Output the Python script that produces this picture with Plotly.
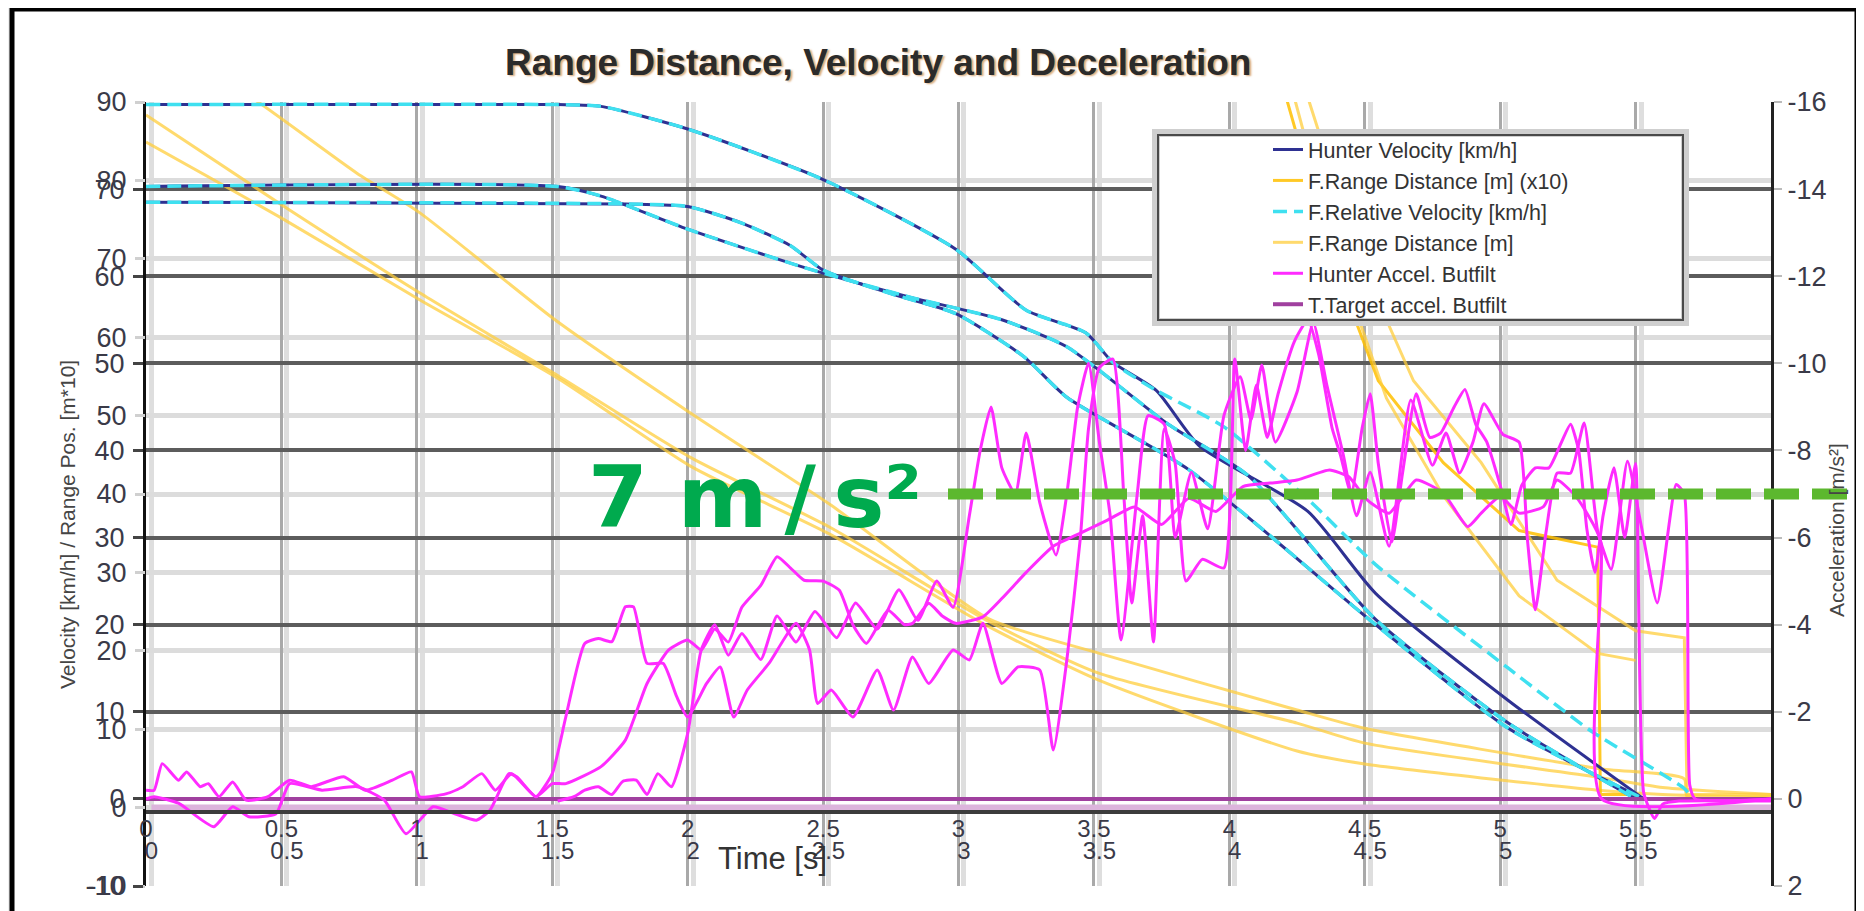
import plotly.graph_objects as go

# ---------------- data ----------------
time_tick_vals = [0, 0.5, 1, 1.5, 2, 2.5, 3, 3.5, 4, 4.5, 5, 5.5]
time_tick_text = ["0", "0.5", "1", "1.5", "2", "2.5", "3", "3.5", "4", "4.5", "5", "5.5"]
speed_tick_vals_a = [-10, 0, 10, 20, 30, 40, 50, 60, 70]
speed_tick_text_a = ["-10", "0", "10", "20", "30", "40", "50", "60", "70"]
speed_tick_vals_b = [-10, 0, 10, 20, 30, 40, 50, 60, 70, 80, 90]
speed_tick_text_b = ["-10", "0", "10", "20", "30", "40", "50", "60", "70", "80", "90"]
accel_tick_vals = [-16, -14, -12, -10, -8, -6, -4, -2, 0, 2]
accel_tick_text = ["-16", "-14", "-12", "-10", "-8", "-6", "-4", "-2", "0", "2"]

# velocity [km/h] (left axis, -10..80 scale)
vel_common_t = [0, 1.52, 1.68, 2.0, 2.5, 2.99, 3.25, 3.47, 3.57, 3.73]
vel_common_v = [79.7, 79.7, 79.5, 76.9, 71.1, 63.1, 56.1, 53.5, 50.1, 46.9]
hunter_tail_t = [3.89, 4.29, 4.54, 5.03, 5.53]
hunter_tail_v = [40.5, 33.0, 23.6, 11.3, 0.0]
relative_tail_t = [3.98, 4.29, 4.54, 5.03, 5.34, 5.68, 5.71]
relative_tail_v = [42.7, 34.4, 26.9, 15.0, 7.7, 1.2, 0.0]

vel2_t = [0, 1.52, 1.68, 2.0, 2.42, 2.82, 3.16, 3.40, 3.77, 4.07, 4.54, 5.03, 5.50]
vel2_v = [70.3, 70.3, 69.2, 65.4, 61.1, 57.6, 55.0, 51.9, 43.1, 37.1, 20.6, 8.7, 0.0]
vel3_t = [0, 1.77, 2.0, 2.2, 2.38, 2.5, 2.75, 2.99, 3.24, 3.40, 3.85, 4.54, 5.03, 5.53]
vel3_v = [68.5, 68.3, 68.0, 66.1, 63.5, 60.7, 58.0, 55.7, 50.8, 46.1, 37.8, 20.0, 8.1, 0.0]

# range distance [m]
range_t = [0, 0.51, 1.01, 1.52, 2.01, 2.53, 3.11, 3.52, 4.25, 4.50, 5.36, 5.60, 6.0]
range1_v = [78.5, 68.0, 58.1, 48.6, 39.2, 31.1, 20.4, 14.4, 8.7, 6.4, 2.5, 1.3, 0.5]
range2_v = [75.4, 66.5, 57.3, 48.3, 38.2, 30.3, 19.8, 13.6, 5.5, 4.0, 1.0, 0.5, 0.2]
range3_t = [0, 0.40, 0.78, 1.01, 1.51, 2.01, 2.53, 3.11, 3.52, 4.25, 4.50, 5.36, 5.68, 5.69, 6.0]
range3_v = [88.1, 80.3, 71.8, 67.3, 55.0, 44.3, 33.7, 20.7, 16.7, 10.2, 8.1, 3.5, 2.3, 0.3, 0.3]

# range distance [m] (x10)
rx1_t = [4.12, 4.21, 4.38, 4.55, 4.79, 5.07, 5.36, 5.37, 5.50]
rx1_v = [92.0, 80.5, 62.0, 48.0, 38.6, 30.8, 28.9, 0.5, 0.5]
rx2_t = [4.20, 4.29, 4.48, 4.68, 4.93, 5.21, 5.50, 5.68, 5.69, 6.0]
rx2_v = [92.0, 80.5, 62.0, 48.0, 38.6, 25.1, 19.3, 18.5, 0.5, 0.5]
rx3_t = [4.15, 4.24, 4.40, 4.58, 4.79, 5.07, 5.36, 5.50]
rx3_v = [92.0, 80.5, 62.0, 46.0, 34.8, 23.3, 16.7, 15.9]

# hunter acceleration [m/s^2] (right axis, reversed)
accA_t = [0.00, 0.03, 0.12, 0.25, 0.32, 0.38, 0.48, 0.53, 0.65, 0.78, 0.88, 0.96, 1.06, 1.14,
          1.22, 1.27, 1.34, 1.37, 1.44, 1.50, 1.55, 1.62, 1.67, 1.72, 1.77, 1.80, 1.85, 1.91,
          1.96, 2.00, 2.07, 2.12, 2.17, 2.22, 2.30, 2.40, 2.45, 2.48, 2.53, 2.61, 2.70, 2.76,
          2.83, 2.89, 2.98, 3.04, 3.09, 3.16, 3.22, 3.30, 3.35, 3.40, 3.45, 3.48, 3.52, 3.57,
          3.61, 3.64, 3.68, 3.72, 3.76, 3.80, 3.84, 3.90, 3.98, 4.02, 4.06, 4.10, 4.14, 4.18,
          4.24, 4.29, 4.33, 4.38, 4.41, 4.45, 4.49, 4.52, 4.55, 4.60, 4.64, 4.69, 4.74, 4.78,
          4.83, 4.87, 4.91, 4.95, 5.00, 5.04, 5.08, 5.13, 5.18, 5.22, 5.26, 5.29, 5.32, 5.35,
          5.38, 5.42, 5.46, 5.50, 5.53, 5.57, 5.60, 5.66, 6.00]
accA_a = [0.00, -0.05, 0.10, 0.64, 0.18, 0.41, 0.34, -0.35, -0.20, -0.28, 0.03, 0.80, 0.18, 0.34,
          0.49, 0.26, -0.58, -0.50, -0.05, -0.58, -1.88, -3.57, -3.68, -3.61, -4.41, -4.41, -3.11, -3.11,
          -2.34, -1.88, -2.65, -3.03, -1.88, -2.50, -3.11, -4.03, -3.42, -2.19, -2.50, -1.88, -2.96, -2.04,
          -3.26, -2.65, -3.42, -3.19, -4.03, -2.65, -3.03, -2.96, -1.12, -3.19, -6.0, -8.5, -9.9, -10.1,
          -7.0, -4.5, -6.5, -3.6, -8.5, -7.7, -5.0, -5.5, -5.3, -10.1, -8.0, -9.5, -8.3, -9.3,
          -10.5, -11.0, -10.2, -8.5, -7.9, -7.0, -8.5, -9.3, -7.7, -5.9, -7.5, -9.3, -8.3, -8.4,
          -9.0, -9.4, -8.6, -8.2, -7.2, -6.3, -7.2, -7.6, -7.6, -8.1, -8.6, -8.0, -6.2, -5.2,
          -6.5, -7.6, -6.0, -7.7, -0.14, 0.45, 0.12, 0.05, 0.05]

accB_t = [0.00, 0.03, 0.06, 0.12, 0.15, 0.20, 0.23, 0.27, 0.32, 0.37, 0.45, 0.53, 0.61, 0.73,
          0.81, 0.91, 0.98, 1.01, 1.11, 1.17, 1.24, 1.29, 1.35, 1.44, 1.50, 1.55, 1.68, 1.77,
          1.85, 1.93, 2.00, 2.05, 2.10, 2.15, 2.20, 2.27, 2.33, 2.38, 2.43, 2.50, 2.56, 2.61,
          2.66, 2.74, 2.80, 2.83, 2.89, 2.94, 2.99, 3.09, 3.16, 3.25, 3.35, 3.45, 3.55, 3.65,
          3.75, 3.85, 3.95, 4.05, 4.15, 4.25, 4.37, 4.44, 4.51, 4.59, 4.69, 4.79, 4.88, 4.93,
          5.00, 5.07, 5.16, 5.21, 5.28, 5.37, 5.375, 6.00]
accB_a = [-0.20, -0.20, -0.81, -0.43, -0.62, -0.28, -0.35, -0.05, -0.39, 0.03, -0.05, -0.43, -0.28, -0.51,
          -0.20, -0.43, -0.62, -0.05, -0.12, -0.28, -0.58, -0.20, -0.58, -0.05, -0.35, -0.35, -0.74, -1.35,
          -2.65, -3.42, -3.65, -3.42, -3.9, -3.6, -4.4, -4.9, -5.56, -5.3, -5.02, -5.0, -4.79, -4.0,
          -3.57, -4.33, -4.0, -4.03, -4.49, -4.2, -4.03, -4.18, -4.6, -5.2, -5.8, -6.1, -6.4, -6.7,
          -6.3, -6.9, -6.6, -7.17, -7.25, -7.32, -7.55, -7.4, -6.86, -6.56, -7.32, -7.02, -6.25, -6.56,
          -6.94, -6.56, -6.71, -7.32, -6.94, -5.94, 0.0, 0.0]

accC_t = [1.52, 1.58, 1.62, 1.67, 1.72, 1.76, 1.81, 1.85, 1.89, 1.94, 2.00, 2.05, 2.10, 2.15,
          2.20, 2.27, 2.33, 2.40, 2.47, 2.55, 2.62, 2.70, 2.78, 2.85, 2.92, 2.98, 3.04, 3.08,
          3.12, 3.16, 3.21, 3.25, 3.30, 3.36, 3.40, 3.44, 3.48, 3.52, 3.56, 3.60, 3.66, 3.70,
          3.76, 3.80, 3.86, 3.92, 3.98, 4.04, 4.08, 4.12, 4.17, 4.25, 4.31, 4.36, 4.42, 4.47,
          4.52, 4.59, 4.67, 4.75, 4.80, 4.85, 4.90, 4.94, 5.01, 5.07, 5.10, 5.13, 5.17, 5.21,
          5.26, 5.31, 5.36, 5.41, 5.47, 5.52, 5.58, 5.65, 5.68, 5.70, 5.72, 6.00]
accC_a = [0.05, -0.05, -0.20, -0.28, -0.10, -0.40, -0.43, -0.10, -0.58, -0.28, -1.5, -3.42, -4.0, -3.3,
          -3.8, -3.2, -4.2, -3.6, -4.3, -3.7, -4.5, -3.9, -4.8, -4.1, -5.0, -4.4, -6.5, -8.0,
          -9.0, -7.6, -7.0, -8.4, -6.8, -5.6, -7.0, -9.0, -10.0, -8.2, -6.5, -3.65, -7.0, -8.8,
          -8.6, -6.0, -7.5, -6.2, -8.8, -9.69, -8.7, -9.96, -8.19, -9.34, -10.93, -9.5, -7.92, -6.5,
          -7.5, -5.8, -9.16, -7.66, -8.4, -7.48, -8.2, -9.07, -8.37, -8.19, -6.0, -4.34, -6.15, -7.48,
          -7.48, -8.63, -6.15, -5.27, -7.75, -6.3, -4.5, -7.22, -7.0, -0.32, 0.0, 0.0]

target_t = [0, 6]
target_a = [0, 0]
target2_v = [0, 0]

threshold_accel = -7
threshold_label = "7 m\u2009/\u2009s²"

# ---------------- styling ----------------
NAVY = "#2e3192"
CYAN = "#3fe0f0"
YEL = "rgba(255,205,60,0.75)"
ORANGE = "rgba(255,192,0,0.85)"
MAG = "#ff2bff"
PURPLE = "#a0409f"
LPURPLE = "#dcb4dc"
TICKCOL = "#3a3a48"
TICKFONT = dict(family="Liberation Sans, Arial, sans-serif", size=27, color=TICKCOL)
XFONT = dict(family="Liberation Sans, Arial, sans-serif", size=24, color=TICKCOL)

fig = go.Figure()

# second-exposure target line on the light (main) axes
fig.add_trace(go.Scatter(x=target_t, y=target2_v, xaxis="x", yaxis="y", mode="lines",
                         line=dict(color=LPURPLE, width=6), showlegend=False, hoverinfo="skip"))

sp = dict(shape="spline", smoothing=0.6)
for tt, vv, show in [(range_t, range1_v, True), (range_t, range2_v, False),
                     (range3_t, range3_v, False)]:
    fig.add_trace(go.Scatter(x=tt, y=vv, xaxis="x2", yaxis="y2", mode="lines",
                             name="F.Range Distance [m]",
                             line=dict(color=YEL, width=3, **sp), showlegend=show,
                             legendrank=4, hoverinfo="skip"))
for tt, vv, show in [(rx1_t, rx1_v, True), (rx2_t, rx2_v, False), (rx3_t, rx3_v, False)]:
    fig.add_trace(go.Scatter(x=tt, y=vv, xaxis="x2", yaxis="y2", mode="lines",
                             name="F.Range Distance [m] (x10)",
                             line=dict(color=ORANGE if show else YEL, width=3),
                             showlegend=show, legendrank=2, hoverinfo="skip"))

# velocity lines (navy solid, cyan dashed on top)
hunter_t = vel_common_t + hunter_tail_t
hunter_v = vel_common_v + hunter_tail_v
rel_t = vel_common_t + relative_tail_t
rel_v = vel_common_v + relative_tail_v
fig.add_trace(go.Scatter(x=hunter_t, y=hunter_v, xaxis="x2", yaxis="y2", mode="lines",
                         name="Hunter Velocity [km/h]", line=dict(color=NAVY, width=3, **sp),
                         legendrank=1, hoverinfo="skip"))
for tt, vv in [(vel2_t, vel2_v), (vel3_t, vel3_v)]:
    fig.add_trace(go.Scatter(x=tt, y=vv, xaxis="x2", yaxis="y2", mode="lines",
                             line=dict(color=NAVY, width=3, **sp), showlegend=False,
                             hoverinfo="skip"))
fig.add_trace(go.Scatter(x=rel_t, y=rel_v, xaxis="x2", yaxis="y2", mode="lines",
                         name="F.Relative Velocity [km/h]",
                         line=dict(color=CYAN, width=3.5, dash="14px,7px", **sp),
                         legendrank=3, hoverinfo="skip"))
for tt, vv in [(vel2_t, vel2_v), (vel3_t, vel3_v)]:
    fig.add_trace(go.Scatter(x=tt, y=vv, xaxis="x2", yaxis="y2", mode="lines",
                             line=dict(color=CYAN, width=3.5, dash="14px,7px", **sp),
                             showlegend=False, hoverinfo="skip"))

# acceleration lines
fig.add_trace(go.Scatter(x=target_t, y=target_a, xaxis="x2", yaxis="y3", mode="lines",
                         name="T.Target accel. Butfilt", line=dict(color=PURPLE, width=4),
                         legendrank=6, hoverinfo="skip"))
msp = dict(shape="spline", smoothing=0.5)
fig.add_trace(go.Scatter(x=accA_t, y=accA_a, xaxis="x2", yaxis="y3", mode="lines",
                         name="Hunter Accel. Butfilt", line=dict(color=MAG, width=3, **msp),
                         legendrank=5, hoverinfo="skip"))
for tt, aa in [(accB_t, accB_a), (accC_t, accC_a)]:
    fig.add_trace(go.Scatter(x=tt, y=aa, xaxis="x2", yaxis="y3", mode="lines",
                             line=dict(color=MAG, width=3, **msp), showlegend=False,
                             hoverinfo="skip"))

# page geometry (the page body adds an 8 px offset)
OFF = 8
W, H = 1864 - OFF, 911 - OFF
PL, PR, PT, PB = 146, 1771, 102, 886          # plot area in page pixels
L, T = PL - OFF, PT - OFF
R, B = W - (PR - OFF), H - (PB - OFF)
pw, ph = PR - PL, PB - PT


def px(xp):
    return (xp - PL) / pw


def py(yp):
    return (PB - yp) / ph


fig.update_layout(
    width=W, height=H,
    margin=dict(l=L, r=R, t=T, b=B, autoexpand=False),
    paper_bgcolor="#efefef",
    plot_bgcolor="white",
    showlegend=True,
    legend=dict(x=px(1268), y=py(129), xanchor="left", yanchor="top",
                bgcolor="rgba(0,0,0,0)", borderwidth=0,
                font=dict(family="Liberation Sans, Arial, sans-serif", size=21.5, color="#333"),
                traceorder="normal"),
    xaxis=dict(range=[-0.02, 5.98], anchor="free", position=py(812), domain=[0, 1],
               tickvals=time_tick_vals, ticktext=time_tick_text, tickfont=XFONT,
               showgrid=True, gridcolor="#dedede", gridwidth=5,
               showline=True, linecolor="#3c3c3c", linewidth=4,
               zeroline=False, ticks="", ticklabelstandoff=16),
    xaxis2=dict(range=[0, 6], overlaying="x", anchor="free", position=py(812),
                tickvals=time_tick_vals, ticktext=time_tick_text, tickfont=XFONT,
                showgrid=True, gridcolor="#a9a9a9", gridwidth=3,
                showline=False, zeroline=False, ticks="", ticklabelstandoff=0),
    yaxis=dict(range=[-10, 90], anchor="x", side="left",
               tickvals=speed_tick_vals_b, ticktext=speed_tick_text_b,
               showgrid=True, gridcolor="#dcdcdc", gridwidth=5,
               showline=False, zeroline=False, ticks="outside", ticklen=10,
               tickwidth=3, tickcolor="#d0d0d0", tickfont=TICKFONT, ticklabelstandoff=3),
    yaxis2=dict(range=[-10, 80], overlaying="y", anchor="x2", side="left",
                tickvals=speed_tick_vals_a, ticktext=speed_tick_text_a,
                showgrid=True, gridcolor="#5c5c5c", gridwidth=4,
                showline=True, linecolor="#111", linewidth=3, zeroline=False,
                ticks="outside", ticklen=10, tickwidth=3, tickcolor="#444",
                tickfont=TICKFONT, ticklabelstandoff=3),
    yaxis3=dict(range=[2, -16], overlaying="y", anchor="x2", side="right",
                tickvals=accel_tick_vals, ticktext=accel_tick_text,
                showgrid=False, showline=True, linecolor="#222", linewidth=3, zeroline=False,
                ticks="outside", ticklen=8, tickwidth=2, tickcolor="#bbb",
                tickfont=TICKFONT),
    shapes=[
        # outer frame
        dict(type="rect", xref="paper", yref="paper", x0=px(12), x1=px(1857),
             y0=py(960), y1=py(9), line=dict(color="black", width=5),
             fillcolor="white", layer="below"),
        # legend box
        dict(type="rect", xref="paper", yref="paper", x0=px(1156), x1=px(1685),
             y0=py(322), y1=py(133), line=dict(color="#cfcfcf", width=8),
             fillcolor="white", layer="above"),
        dict(type="rect", xref="paper", yref="paper", x0=px(1158), x1=px(1683),
             y0=py(320), y1=py(135), line=dict(color="#4a4a4a", width=2),
             fillcolor="rgba(0,0,0,0)", layer="above"),
        # 7 m/s^2 threshold line
        dict(type="line", xref="paper", yref="y3", x0=px(948), x1=px(1870),
             y0=threshold_accel, y1=threshold_accel,
             line=dict(color="#5cb82e", width=11, dash="35px,13px"), layer="above"),
    ],
    annotations=[
        dict(text="<b>Range Distance, Velocity and Deceleration</b>", xref="paper", yref="paper",
             x=px(878), y=py(62), xanchor="center", yanchor="middle", showarrow=False,
             font=dict(family="Liberation Sans, Arial, sans-serif", size=37,
                       color="#2b2b2b", shadow="2px 1px 2px #d8a878")),
        dict(text="Velocity [km/h] / Range Pos. [m*10]", xref="paper", yref="paper",
             x=px(67), y=py(525), textangle=-90, showarrow=False,
             xanchor="center", yanchor="middle",
             font=dict(family="Liberation Sans, Arial, sans-serif", size=21, color="#454545")),
        dict(text="Acceleration [m/s²]", xref="paper", yref="paper",
             x=px(1836), y=py(530), textangle=-90, showarrow=False,
             xanchor="center", yanchor="middle",
             font=dict(family="Liberation Sans, Arial, sans-serif", size=21, color="#454545")),
        dict(text="Time [s]", xref="paper", yref="paper", x=px(772), y=py(858), showarrow=False,
             xanchor="center", yanchor="middle",
             font=dict(family="Liberation Sans, Arial, sans-serif", size=31, color="#333")),
        dict(text="<b>" + threshold_label + "</b>", xref="paper", yref="y3", x=px(586),
             y=threshold_accel, xanchor="left", yanchor="middle", showarrow=False, yshift=-3,
             font=dict(family="DejaVu Sans, Verdana, sans-serif", size=86, color="#00aa4e")),
    ],
)

fig.write_html("out.html")
